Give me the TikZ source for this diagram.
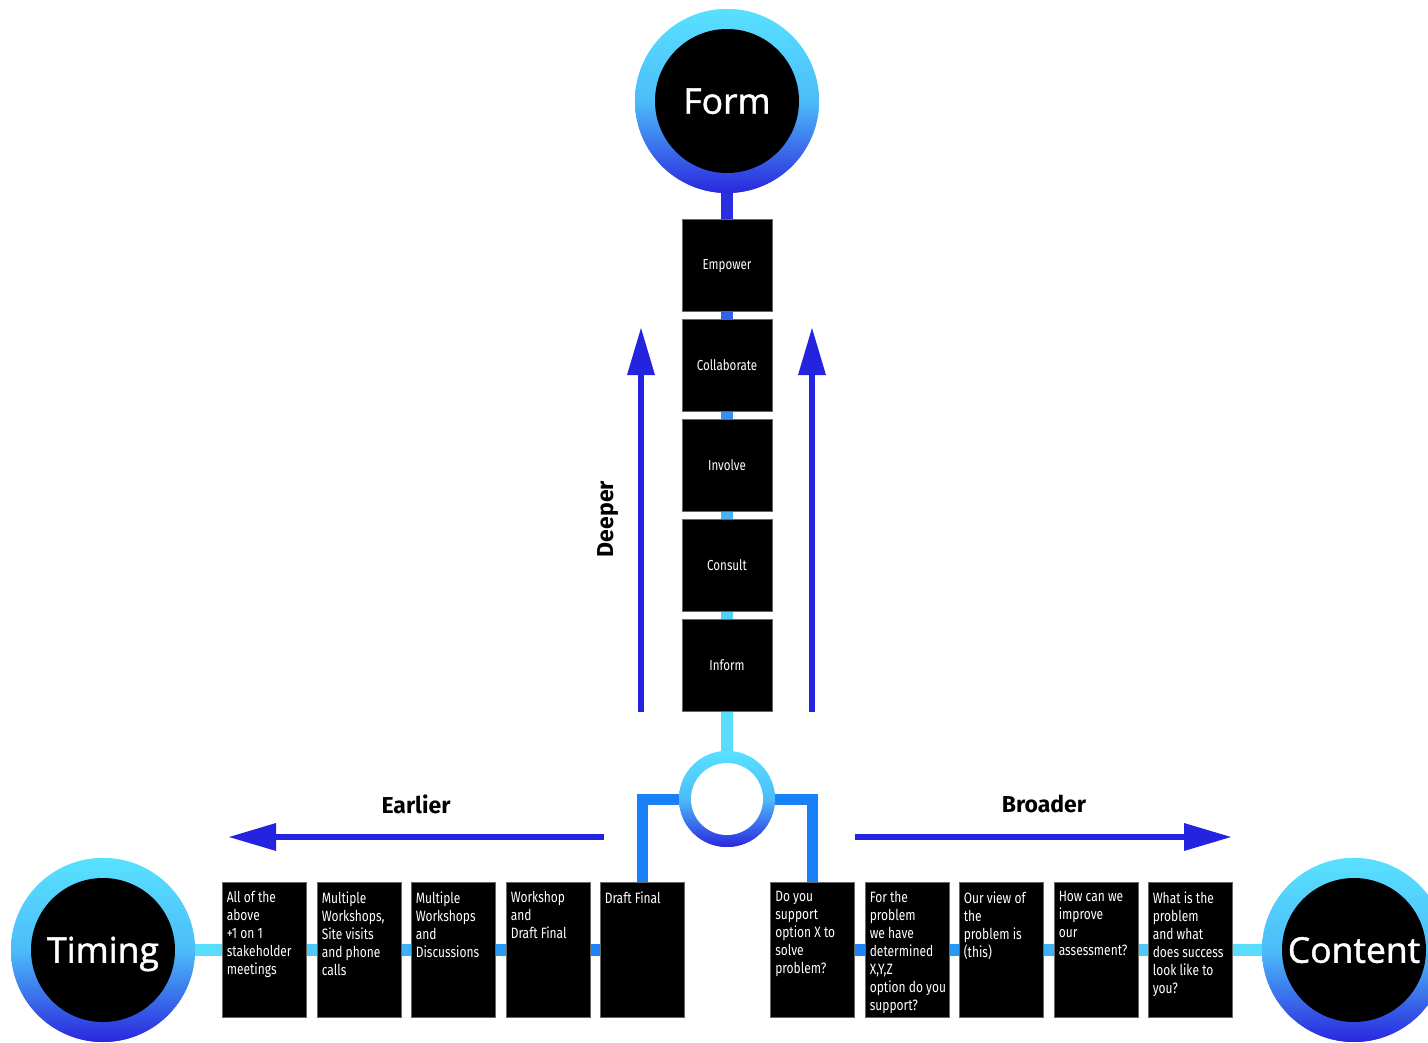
\documentclass[tikz,border=0pt]{standalone}
\usepackage{fontspec}
\setmainfont{Fira Sans}
\newfontfamily\condf[FakeStretch=0.8]{Fira Sans}
\newfontfamily\circf[FakeBold=1.3]{Open Sans}
\usetikzlibrary{arrows.meta}
\definecolor{cyanc}{HTML}{58E1FF}
\definecolor{midc}{HTML}{4CBCF9}
\definecolor{ringblue}{HTML}{2A26DE}
\definecolor{arrowblue}{HTML}{2323E0}
\definecolor{brblue}{HTML}{1A80F8}
\definecolor{cA}{HTML}{2A2EE0}
\definecolor{cB}{HTML}{2F62E8}
\definecolor{cC}{HTML}{3D8EF0}
\definecolor{cD}{HTML}{4AB3F5}
\definecolor{cE}{HTML}{55CDF9}
\definecolor{cF}{HTML}{5ADCFC}
\definecolor{h1}{HTML}{58DDFD}
\definecolor{h2}{HTML}{4FC8FA}
\definecolor{h3}{HTML}{40B0F7}
\definecolor{h4}{HTML}{2C98F5}
\definecolor{h5}{HTML}{1E84F6}
\begin{document}
\begin{tikzpicture}[x=1pt,y=-1pt,
  ring/.style={circle, inner sep=0, minimum size=184, top color=cyanc, bottom color=ringblue, middle color=midc, draw=none},
  core/.style={circle, inner sep=0, minimum size=144, fill=black, text=white, text height=25.5, text depth=0, font=\circf\fontsize{35.5}{40}\selectfont},
  vbox/.style={fill=black, draw=black!60, line width=0.8, minimum width=90, minimum height=92, inner sep=0, text=white, text height=10, text depth=0, font=\condf\fontsize{14.5}{16}\selectfont},
  hbox/.style={fill=black, draw=black!60, line width=0.8, minimum width=84, minimum height=135, inner sep=0},
  btext/.style={anchor=north west, inner sep=0, text=white, font=\condf\fontsize{15}{18}\selectfont, align=left},
  conn/.style={line width=11.5},
  bigarrow/.style={line width=6.5, draw=arrowblue, -{Triangle[length=48pt,width=26pt]}},
  lbl/.style={font=\bfseries\fontsize{23}{26}\selectfont, text=black}
]
\useasboundingbox (0,0) rectangle (1428,1043);
\clip (0,0) rectangle (1428,1043);

% anchor nodes
\node[ring] (formring) at (727,101) {};
\node[ring] (timring) at (103,950) {};
\node[ring] (conring) at (1354,950) {};
\node[circle, inner sep=0, minimum size=96, top color=cyanc, bottom color=ringblue, middle color=midc] (sring) at (727,799) {};

% vertical boxes
\node[vbox] (v1) at (727,265) {};
\node[vbox] (v2) at (727,365) {};
\node[vbox] (v3) at (727,465) {};
\node[vbox] (v4) at (727,565) {};
\node[vbox] (v5) at (727,665) {};

% bottom boxes
\foreach \n/\x in {b1/264, b2/359, b3/453, b4/548, b5/642, b6/812.5, b7/907, b8/1001, b9/1096, b10/1190}
  \node[hbox] (\n) at (\x,950) {};

% connectors
\draw[conn, draw=cA] (formring.south) -- (v1.north);
\draw[conn, draw=cB] (v1.south) -- (v2.north);
\draw[conn, draw=cC] (v2.south) -- (v3.north);
\draw[conn, draw=cD] (v3.south) -- (v4.north);
\draw[conn, draw=cE] (v4.south) -- (v5.north);
\draw[conn, draw=cF] (v5.south) -- (sring.north);
\draw[line width=11, draw=brblue] (sring.west) -| (b5.north);
\draw[line width=11, draw=brblue] (sring.east) -| (b6.north);
\draw[conn, draw=h1] (timring.east) -- (b1.west);
\draw[conn, draw=h2] (b1.east) -- (b2.west);
\draw[conn, draw=h3] (b2.east) -- (b3.west);
\draw[conn, draw=h4] (b3.east) -- (b4.west);
\draw[conn, draw=h5] (b4.east) -- (b5.west);
\draw[conn, draw=h5] (b6.east) -- (b7.west);
\draw[conn, draw=h4] (b7.east) -- (b8.west);
\draw[conn, draw=h3] (b8.east) -- (b9.west);
\draw[conn, draw=h2] (b9.east) -- (b10.west);
\draw[conn, draw=h1] (b10.east) -- (conring.west);

% shapes on top of connectors
\node[ring] at (727,101) {};
\node[ring] at (103,950) {};
\node[ring] at (1354,950) {};
\node[circle, inner sep=0, minimum size=96, top color=cyanc, bottom color=ringblue, middle color=midc] at (727,799) {};
\node[circle, inner sep=0, minimum size=72, fill=white] (shole) at (727,799) {};
\node[core] (form) at (727,101) {Form};
\node[core] (timing) at (103,950) {Timing};
\node[core] (content) at (1354,950) {Content};
\foreach \n/\t in {v1/Empower, v2/Collaborate, v3/Involve, v4/Consult, v5/Inform}
  \node[vbox] at (\n) {\t};
\foreach \n in {b1,b2,b3,b4,b5,b6,b7,b8,b9,b10}
  \node[hbox] at (\n) {};

% box texts
\node[btext] (t1) at ([shift={(5,9)}]b1.north west) {All of the\\above\\+1 on 1\\stakeholder\\meetings};
\node[btext] (t2) at ([shift={(5,9)}]b2.north west) {Multiple\\Workshops,\\Site visits\\and phone\\calls};
\node[btext] (t3) at ([shift={(5,9)}]b3.north west) {Multiple\\Workshops\\and\\Discussions};
\node[btext] (t4) at ([shift={(5,9)}]b4.north west) {Workshop\\and\\Draft Final};
\node[btext] (t5) at ([shift={(5,9)}]b5.north west) {Draft Final};
\node[btext] (t6) at ([shift={(5,9)}]b6.north west) {Do you\\support\\option X to\\solve\\problem?};
\node[btext] (t7) at ([shift={(5,9)}]b7.north west) {For the\\problem\\we have\\determined\\X,Y,Z\\option do you\\support?};
\node[btext] (t8) at ([shift={(5,9)}]b8.north west) {Our view of\\the\\problem is\\(this)};
\node[btext] (t9) at ([shift={(5,9)}]b9.north west) {How can we\\improve\\our\\assessment?};
\node[btext] (t10) at ([shift={(5,9)}]b10.north west) {What is the\\problem\\and what\\does success\\look like to\\you?};

% arrows
\coordinate (dl0) at (641,712); \coordinate (dl1) at (641,327);
\coordinate (dr0) at (812,712); \coordinate (dr1) at (812,327);
\coordinate (el0) at (604,837); \coordinate (el1) at (228,837);
\coordinate (br0) at (855,837); \coordinate (br1) at (1232,837);
\draw[bigarrow] (dl0) -- (dl1);
\draw[bigarrow] (dr0) -- (dr1);
\draw[bigarrow] (el0) -- (el1);
\draw[bigarrow] (br0) -- (br1);

\node[lbl, rotate=90] (deeper) at (608,519) {Deeper};
\node[lbl] (earlier) at (416,804) {Earlier};
\node[lbl] (broader) at (1044,804) {Broader};
\end{tikzpicture}
\end{document}
